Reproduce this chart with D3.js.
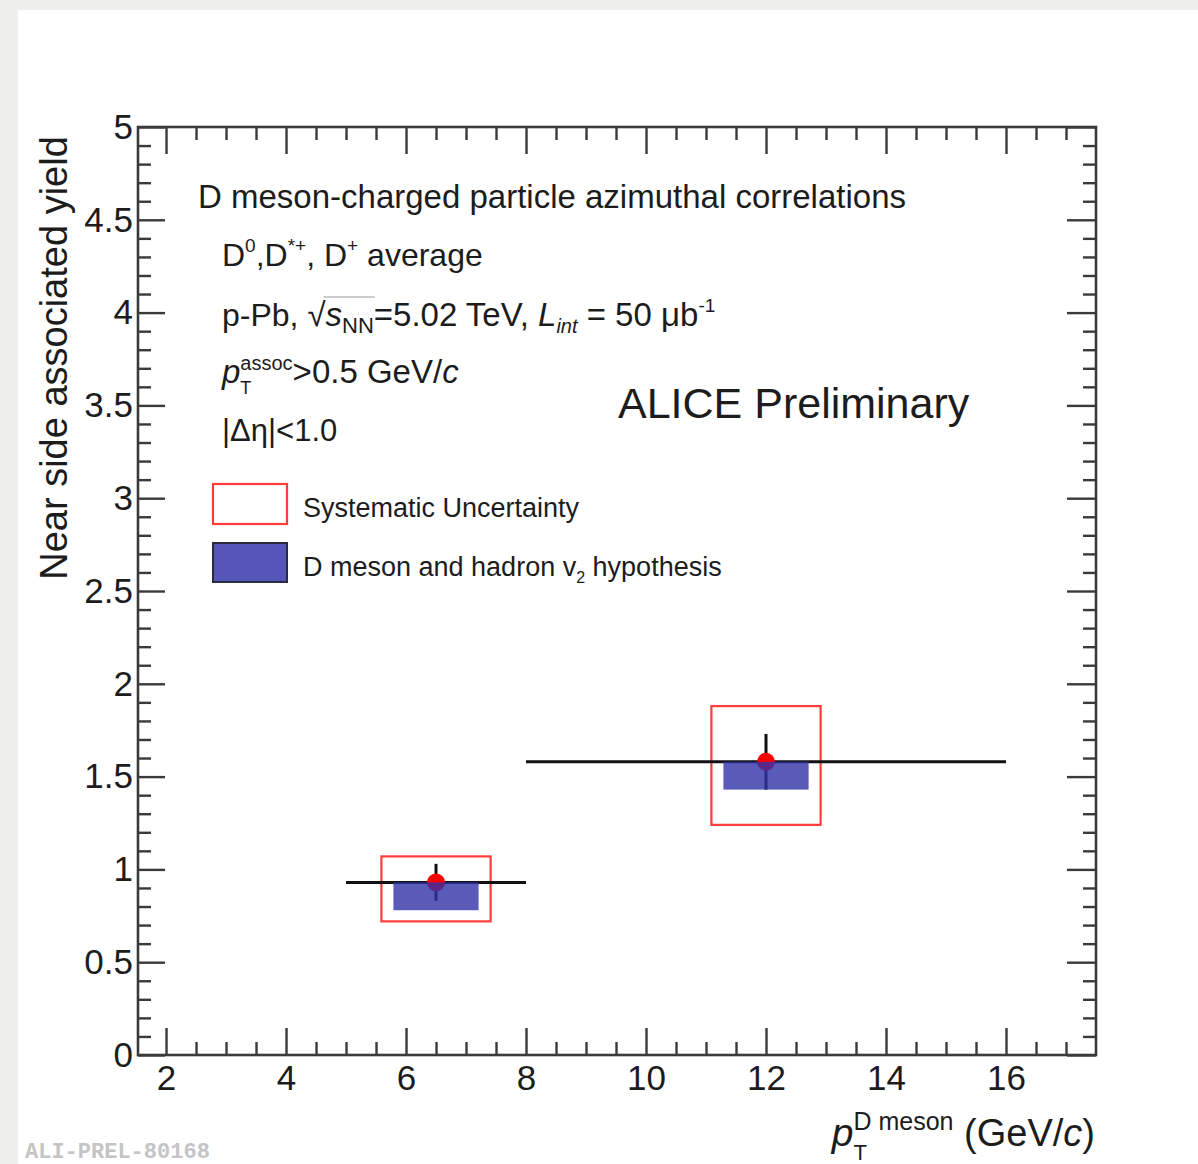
<!DOCTYPE html>
<html>
<head>
<meta charset="utf-8">
<script src="https://cdn.jsdelivr.net/npm/d3@7"></script>
<style>
	body { margin: 0; background: #eeefea; }
	svg { display: block; }
	text { font-family: "Liberation Sans", Arial, Helvetica, sans-serif; fill: #1c1c1c; white-space: pre; }
</style>
</head>
<body>
<svg></svg>
<script>
// data
const ptCenter = [6.5, 12];
const ptLow = [5, 8];
const ptHigh = [8, 16];
const yieldVal = [0.93, 1.58];
const statErr = [0.1, 0.15];
const sysUp = [0.14, 0.3];
const sysDown = [0.21, 0.34];
const v2Low = [0.78, 1.43];

const xTicks = [2, 4, 6, 8, 10, 12, 14, 16];
const yTicks = [0, 0.5, 1, 1.5, 2, 2.5, 3, 3.5, 4, 4.5, 5];

const size = { w: 1198, h: 1164 };
const frame = { l: 138, r: 1096, t: 127, b: 1055 };
const sysHalf = 0.91; // box half width in GeV/c
const v2Half = 0.71;

const svg = d3.select("svg").attr("width", size.w).attr("height", size.h);

// white pad
svg.append("rect")
	.attr("x", 18).attr("y", 10)
	.attr("width", size.w - 18).attr("height", size.h - 10)
	.attr("fill", "#fff");

const x = d3.scaleLinear().domain([1.533, 17.5]).range([frame.l, frame.r]);
const y = d3.scaleLinear().domain([0, 5]).range([frame.b, frame.t]);

const xMinor = d3.range(2.5, 17.01, 0.5).filter((v) => v % 2 !== 0);
const yMinor = d3.range(0.1, 5, 0.1).map((v) => Math.round(v * 10) / 10).filter((v) => Math.round(v * 10) % 5 !== 0);

const axisG = svg.append("g").classed("axes", true);

function styleAxis(g) {
	g.select(".domain").remove();
	g.selectAll(".tick line").attr("stroke", "#3a3a3a").attr("stroke-width", 2.4);
	g.selectAll(".tick text")
		.style("font-size", "35px")
		.attr("fill", "#1c1c1c")
		.style("font-family", '"Liberation Sans", Arial, sans-serif');
}

// bottom
axisG.append("g").attr("transform", `translate(0,${frame.b})`)
	.call(d3.axisBottom(x).tickValues(xTicks).tickSize(-27).tickPadding(10).tickFormat(d3.format("d")))
	.call(styleAxis);
axisG.append("g").attr("transform", `translate(0,${frame.b})`)
	.call(d3.axisBottom(x).tickValues(xMinor).tickSize(-13).tickFormat(""))
	.call(styleAxis);
// top
axisG.append("g").attr("transform", `translate(0,${frame.t})`)
	.call(d3.axisTop(x).tickValues(xTicks).tickSize(-27).tickFormat(""))
	.call(styleAxis);
axisG.append("g").attr("transform", `translate(0,${frame.t})`)
	.call(d3.axisTop(x).tickValues(xMinor).tickSize(-13).tickFormat(""))
	.call(styleAxis);
// left
axisG.append("g").attr("transform", `translate(${frame.l},0)`)
	.call(d3.axisLeft(y).tickValues(yTicks).tickSize(-27).tickPadding(5).tickFormat(d3.format("")))
	.call(styleAxis);
axisG.append("g").attr("transform", `translate(${frame.l},0)`)
	.call(d3.axisLeft(y).tickValues(yMinor).tickSize(-13).tickFormat(""))
	.call(styleAxis);
// right
axisG.append("g").attr("transform", `translate(${frame.r},0)`)
	.call(d3.axisRight(y).tickValues(yTicks).tickSize(-29).tickFormat(""))
	.call(styleAxis);
axisG.append("g").attr("transform", `translate(${frame.r},0)`)
	.call(d3.axisRight(y).tickValues(yMinor).tickSize(-13).tickFormat(""))
	.call(styleAxis);

// frame
svg.append("rect")
	.attr("x", frame.l).attr("y", frame.t)
	.attr("width", frame.r - frame.l).attr("height", frame.b - frame.t)
	.attr("fill", "none").attr("stroke", "#3a3a3a").attr("stroke-width", 2.6);

// data
const pts = ptCenter.map((c, i) => ({
	c, lo: ptLow[i], hi: ptHigh[i], v: yieldVal[i], e: statErr[i],
	su: sysUp[i], sd: sysDown[i], v2: v2Low[i]
}));

const dataG = svg.append("g");

dataG.selectAll("rect.sys").data(pts).join("rect").classed("sys", true)
	.attr("x", (d) => x(d.c - sysHalf))
	.attr("width", (d) => x(d.c + sysHalf) - x(d.c - sysHalf))
	.attr("y", (d) => y(d.v + d.su))
	.attr("height", (d) => y(d.v - d.sd) - y(d.v + d.su))
	.attr("fill", "none").attr("stroke", "#ff3b3b").attr("stroke-width", 2.2);

dataG.selectAll("line.hbar").data(pts).join("line").classed("hbar", true)
	.attr("x1", (d) => x(d.lo)).attr("x2", (d) => x(d.hi))
	.attr("y1", (d) => y(d.v)).attr("y2", (d) => y(d.v))
	.attr("stroke", "#111").attr("stroke-width", 3);

dataG.selectAll("line.vbar").data(pts).join("line").classed("vbar", true)
	.attr("x1", (d) => x(d.c)).attr("x2", (d) => x(d.c))
	.attr("y1", (d) => y(d.v + d.e)).attr("y2", (d) => y(d.v - d.e))
	.attr("stroke", "#111").attr("stroke-width", 3);

dataG.selectAll("circle").data(pts).join("circle")
	.attr("cx", (d) => x(d.c)).attr("cy", (d) => y(d.v))
	.attr("r", 9).attr("fill", "#ff0000");

dataG.selectAll("rect.v2").data(pts).join("rect").classed("v2", true)
	.attr("x", (d) => x(d.c - v2Half))
	.attr("width", (d) => x(d.c + v2Half) - x(d.c - v2Half))
	.attr("y", (d) => y(d.v))
	.attr("height", (d) => y(d.v2) - y(d.v))
	.attr("fill", "#3131a8").attr("fill-opacity", 0.8);

// rich text helper: pieces drawn one after another, "under" pieces stack below the previous one
function rich(g, x0, y0, pieces) {
	let cx = x0;
	let prevStart = x0;
	const spans = [];
	pieces.forEach((p) => {
		const px = p.under ? prevStart : cx;
		const t = g.append("text")
			.attr("x", px).attr("y", y0 + (p.dy || 0))
			.attr("xml:space", "preserve")
			.style("font-size", p.size + "px")
			.style("font-style", p.it ? "italic" : null)
			.text(p.t);
		const w = t.node().getComputedTextLength();
		spans.push({ start: px, end: px + w });
		if (p.under) {
			cx = Math.max(cx, prevStart + w);
		} else {
			prevStart = cx;
			cx += w;
		}
	});
	return { end: cx, spans };
}

const textG = svg.append("g");

rich(textG, 198, 208, [{ t: "D meson-charged particle azimuthal correlations", size: 33 }]);

rich(textG, 222, 266, [
	{ t: "D", size: 32 },
	{ t: "0", size: 19, dy: -14 },
	{ t: ",D", size: 32 },
	{ t: "*+", size: 19, dy: -14 },
	{ t: ", D", size: 32 },
	{ t: "+", size: 19, dy: -14 },
	{ t: " average", size: 32 }
]);

const sq = rich(textG, 222, 326, [
	{ t: "p-Pb, ", size: 32 },
	{ t: "√", size: 33 },
	{ t: "s", size: 33, it: true },
	{ t: "NN", size: 22, dy: 7 },
	{ t: "=5.02 TeV, ", size: 33 },
	{ t: "L", size: 33, it: true },
	{ t: "int", size: 20, dy: 7, it: true },
	{ t: " = 50 μb", size: 33 },
	{ t: "-1", size: 19, dy: -14 }
]);
textG.append("line")
	.attr("x1", sq.spans[1].end - 2).attr("x2", sq.spans[3].end + 1)
	.attr("y1", 326 - 29).attr("y2", 326 - 29)
	.attr("stroke", "#bbb").attr("stroke-width", 1.5);

rich(textG, 222, 383, [
	{ t: "p", size: 33, it: true },
	{ t: "assoc", size: 20, dy: -13 },
	{ t: "T", size: 18, dy: 11, under: true },
	{ t: ">0.5 GeV/", size: 33 },
	{ t: "c", size: 33, it: true }
]);

rich(textG, 222, 441, [{ t: "|Δη|<1.0", size: 31 }]);

rich(textG, 618, 418, [{ t: "ALICE Preliminary", size: 43 }]);

// legend
const legend = svg.append("g");
legend.append("rect")
	.attr("x", 213).attr("y", 484).attr("width", 74).attr("height", 40)
	.attr("fill", "#fff").attr("stroke", "#ff3b3b").attr("stroke-width", 2.2);
legend.append("rect")
	.attr("x", 213).attr("y", 543).attr("width", 74).attr("height", 39)
	.attr("fill", "#5656b8").attr("stroke", "#2a2a40").attr("stroke-width", 2);
rich(legend, 303, 517, [{ t: "Systematic Uncertainty", size: 27 }]);
rich(legend, 303, 576, [
	{ t: "D meson and hadron v", size: 27 },
	{ t: "2", size: 16, dy: 7 },
	{ t: " hypothesis", size: 27 }
]);

// axis titles
svg.append("text")
	.attr("transform", `translate(67,${358}) rotate(-90)`)
	.attr("text-anchor", "middle")
	.style("font-size", "38px")
	.text("Near side associated yield");

const xt = svg.append("g");
const xr = rich(xt, 0, 1146, [
	{ t: "p", size: 39, it: true },
	{ t: "D meson", size: 25, dy: -16 },
	{ t: "T", size: 22, dy: 14, under: true },
	{ t: " (GeV/", size: 38 },
	{ t: "c", size: 38, it: true },
	{ t: ")", size: 38 }
]);
xt.attr("transform", `translate(${1095 - xr.end},0)`);

svg.append("text")
	.attr("x", 25).attr("y", 1158)
	.style("font-family", '"Liberation Mono", "DejaVu Sans Mono", monospace')
	.style("font-size", "22px")
	.style("font-weight", "bold")
	.style("fill", "#c4c4c4")
	.text("ALI-PREL-80168");
</script>
</body>
</html>
